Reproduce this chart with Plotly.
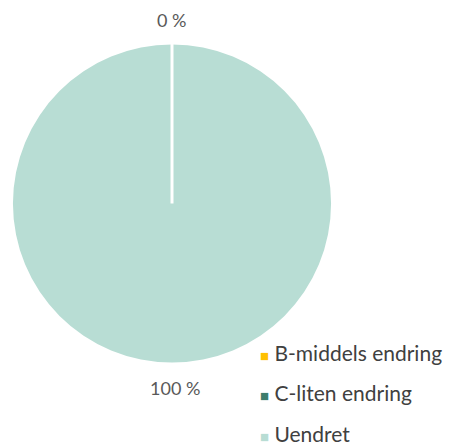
import plotly.graph_objects as go

categories = ["B-middels endring", "C-liten endring", "Uendret"]
values = [0, 0, 100]
colors = ["#FFC000", "#3E7D6B", "#B8DDD4"]

total = sum(values)
pct_text = [f"{round(v / total * 100)} %" for v in values]

W, H = 452, 448
OFF = 8  # page body margin
cx, cy, r = 172, 203.5, 159

def px(x):
    return (x - OFF) / W

def py(y):
    return 1 - (y - OFF) / H

fig = go.Figure()
fig.add_trace(go.Pie(
    labels=categories, values=values, sort=False, direction="clockwise",
    marker=dict(colors=colors, line=dict(color="white", width=0)),
    textinfo="none", showlegend=False, hoverinfo="label+percent",
    domain=dict(x=[px(cx - r), px(cx + r)], y=[py(cy + r), py(cy - r)]),
))

# boundary of the zero-size slices at 12 o'clock
fig.add_shape(type="line", xref="paper", yref="paper",
              x0=px(cx), x1=px(cx), y0=py(cy), y1=py(cy - r - 1),
              line=dict(color="white", width=3))

lab_font = dict(family="Lato", size=18, color="#595959")
fig.add_annotation(x=px(171), y=py(20), xref="paper", yref="paper",
                   xanchor="center", yanchor="middle",
                   text=pct_text[0], showarrow=False, font=lab_font)
fig.add_annotation(x=px(174.5), y=py(388), xref="paper", yref="paper",
                   xanchor="center", yanchor="middle",
                   text=pct_text[2], showarrow=False, font=lab_font)

# legend
leg_y = [352, 392, 433]
for name, col, yy in zip(categories, colors, leg_y):
    fig.add_annotation(
        x=px(258), y=py(yy), xref="paper", yref="paper",
        xanchor="left", yanchor="middle",
        text=f"<span style='color:{col};font-size:15px'>■</span> {name}",
        showarrow=False, font=dict(family="Lato", size=21, color="#404040"),
    )

fig.update_layout(
    width=W, height=H, margin=dict(l=0, r=0, t=0, b=0),
    paper_bgcolor="white", plot_bgcolor="white",
)
fig.write_html("out.html")
